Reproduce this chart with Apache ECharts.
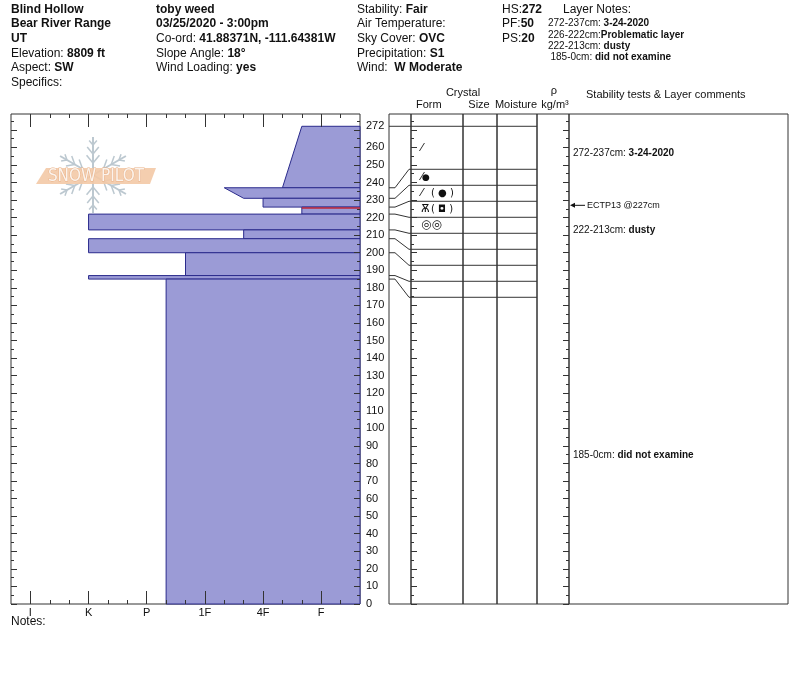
<!DOCTYPE html>
<html>
<head>
<meta charset="utf-8">
<script src="https://cdn.jsdelivr.net/npm/echarts@6/dist/echarts.min.js"></script>
<style>html,body{margin:0;padding:0;background:#fff}#c{width:800px;height:676px}</style>
</head>
<body>
<div id="c"></div>
<script>
// ---------------- data ----------------
const layerTop       = [272, 237, 231, 226, 222, 213, 208, 200, 187, 185];
const layerBottom    = [237, 231, 226, 222, 213, 208, 200, 187, 185, 0];
const hardnessTop    = ['F+', '1F-', '4F', 'F+', 'K', '4F+', 'K', '1F+', 'K', 'P-'];
const hardnessBottom = ['4F-', '4F+', '4F', 'F+', 'K', '4F+', 'K', '1F+', 'K', 'P-'];
const problematic    = [false, false, false, true, false, false, false, false, false, false];
const formPrimary    = ['⁄', '●+⁄', '⁄', 'Ѫ', '◎◎', '', '', '', '', ''];
const formSecondary  = ['', '', '●', '◘', '', '', '', '', '', ''];
const layerComments  = ['3-24-2020', '', '', '', 'dusty', '', '', '', '', 'did not examine'];
const testDepth      = [227];
const testLabel      = ['ECTP13 @227cm'];
const hardnessLabels = ['I', 'K', 'P', '1F', '4F', 'F'];
const depthLabels    = [0,10,20,30,40,50,60,70,80,90,100,110,120,130,140,150,160,170,180,190,200,210,220,230,240,250,260,272];

const siteLines  = [[['Blind Hollow',1]], [['Bear River Range',1]], [['UT',1]], [['Elevation: ',0],['8809 ft',1]], [['Aspect: ',0],['SW',1]], [['Specifics:',0]]];
const obsLines   = [[['toby weed',1]], [['03/25/2020 - 3:00pm',1]], [['Co-ord: ',0],['41.88371N, -111.64381W',1]], [['Slope Angle: ',0],['18°',1]], [['Wind Loading: ',0],['yes',1]]];
const wxLines    = [[['Stability: ',0],['Fair',1]], [['Air Temperature:',0]], [['Sky Cover: ',0],['OVC',1]], [['Precipitation: ',0],['S1',1]], [['Wind:  ',0],['W Moderate',1]]];
const snowLines  = [[['HS:',0],['272',1]], [['PF:',0],['50',1]], [['PS:',0],['20',1]]];
const noteRanges = ['272-237cm: ', '226-222cm:', '222-213cm: ', '185-0cm: '];
const noteTexts  = ['3-24-2020', 'Problematic layer', 'dusty', 'did not examine'];

// ---------------- helpers ----------------
const FONT = 'Arial, "Liberation Sans", Helvetica, sans-serif';
const INK = '#111';
const LINE = '#333';
const HBASE = {I:1, K:4, P:7, '1F':10, '4F':13, F:16};
function hard(code) {
  const m = code.match(/^(1F|4F|I|K|P|F)([+-]?)$/);
  let v = HBASE[m[1]];
  if (m[2] === '+') v -= 1;
  if (m[2] === '-') v += 1;
  return v;
}
const CM_MAX = 279;
const majorDepth = [], minorDepth = [];
for (let v = 0; v <= 275; v += 5) (v % 10 === 0 ? majorDepth : minorDepth).push(v);
const majorHard = hardnessLabels.map(h => HBASE[h]);
const minorHard = [];
for (let v = 1; v < 18; v++) if (majorHard.indexOf(v) < 0) minorHard.push(v);

function richText(parts) {
  return parts.map(p => '{' + (p[1] ? 'b' : 'n') + '|' + p[0] + '}').join('');
}
function richStyle(size) {
  return {
    n: {fontSize: size, fontFamily: FONT, fill: INK},
    b: {fontSize: size, fontFamily: FONT, fontWeight: 'bold', fill: INK}
  };
}
function gtext(x, y, parts, size, align) {
  return {type: 'text', x: x, y: y, silent: true, style: {
    text: richText(parts), rich: richStyle(size || 12), fontSize: size || 12, fontFamily: FONT, fill: INK,
    textAlign: align || 'left', textVerticalAlign: 'middle', align: align || 'left', verticalAlign: 'middle'}};
}

// ---------------- grids & axes ----------------
const GT = 114, GH = 490;
const grids = [
  {left: 11,  top: GT, width: 349, height: GH},   // 0 hardness profile
  {left: 389, top: GT, width: 22,  height: GH},   // 1 connectors
  {left: 411, top: GT, width: 52,  height: GH},   // 2 form
  {left: 463, top: GT, width: 34,  height: GH},   // 3 size
  {left: 497, top: GT, width: 40,  height: GH},   // 4 moisture
  {left: 537, top: GT, width: 32,  height: GH},   // 5 density
  {left: 569, top: GT, width: 219, height: GH},   // 6 comments
  {left: 389, top: GT, width: 399, height: GH}    // 7 overlay for table drawing
].map((g, i) => Object.assign(g, {show: i < 7, borderColor: LINE, borderWidth: 1, backgroundColor: 'transparent', containLabel: false}));

function tickAxis(gi, pos, vals, len, min, max, label) {
  return {
    type: 'value', gridIndex: gi, position: pos, min: min, max: max, z: 10,
    axisLine: {show: false, onZero: false},
    splitLine: {show: false},
    axisTick: {show: true, inside: true, length: len, customValues: vals, lineStyle: {color: LINE, width: 1}},
    axisLabel: label || {show: false}
  };
}
function hiddenAxis(gi, max) {
  return {type: 'value', gridIndex: gi, min: 0, max: max, show: false, axisLine: {onZero: false}};
}

const xAxes = [
  tickAxis(0, 'bottom', majorHard, 13, 0, 18, {
    show: true, customValues: majorHard, margin: 3, color: INK, fontSize: 11, fontFamily: FONT,
    formatter: v => hardnessLabels[majorHard.indexOf(v)] || ''
  }),
  tickAxis(0, 'bottom', minorHard, 4, 0, 18),
  tickAxis(0, 'top', majorHard, 13, 0, 18),
  tickAxis(0, 'top', minorHard, 4, 0, 18),
  hiddenAxis(1, 1), hiddenAxis(2, 1), hiddenAxis(3, 1), hiddenAxis(4, 1), hiddenAxis(5, 1), hiddenAxis(6, 1),
  hiddenAxis(7, 399)
];
const yAxes = [
  tickAxis(0, 'right', majorDepth, 6, 0, CM_MAX, {
    show: true, customValues: depthLabels, margin: 6, color: INK, fontSize: 11, fontFamily: FONT, align: 'left'
  }),
  tickAxis(0, 'right', minorDepth, 3, 0, CM_MAX),
  tickAxis(0, 'left', majorDepth, 6, 0, CM_MAX),
  tickAxis(0, 'left', minorDepth, 3, 0, CM_MAX),
  hiddenAxis(1, CM_MAX),
  tickAxis(2, 'left', majorDepth, 6, 0, CM_MAX),
  tickAxis(2, 'left', minorDepth, 3, 0, CM_MAX),
  hiddenAxis(3, CM_MAX),
  hiddenAxis(4, CM_MAX),
  tickAxis(5, 'right', majorDepth, 6, 0, CM_MAX),
  tickAxis(5, 'right', minorDepth, 3, 0, CM_MAX),
  hiddenAxis(6, CM_MAX),
  hiddenAxis(7, CM_MAX)
];

// ---------------- series ----------------
const layerData = layerTop.map((t, i) => [t, layerBottom[i], hard(hardnessTop[i]), hard(hardnessBottom[i]), problematic[i] ? 1 : 0]);

function renderLayer(params, api) {
  const top = api.value(0), bot = api.value(1), ht = api.value(2), hb = api.value(3), prob = api.value(4);
  const a = api.coord([ht, top]);
  const b = api.coord([18, top]);
  const c = api.coord([18, bot]);
  const d = api.coord([hb, bot]);
  const children = [{type: 'polygon', shape: {points: [a, b, c, d]},
    style: {fill: '#9b9bd6', stroke: '#2b2b8c', lineWidth: 1}}];
  if (prob) children.push({type: 'line', shape: {x1: a[0], y1: a[1] + 1, x2: b[0], y2: b[1] + 1},
    style: {stroke: '#c0283a', lineWidth: 1.5}});
  return {type: 'group', children: children};
}

function textEl(x, y, text, font, extra) {
  return {type: 'text', x: x, y: y, style: Object.assign({
    text: text, font: font, fill: INK, textAlign: 'left', textVerticalAlign: 'middle', align: 'left', verticalAlign: 'middle'}, extra || {})};
}

function renderRow(params, api) {
  const i = params.dataIndex, n = layerTop.length;
  const origin = api.coord([0, 0]);
  const x0 = origin[0], yBottom = origin[1];
  const yTop = api.coord([0, layerTop[0]])[1];
  const FIRST = 43, ROW = 16;
  const rowTop = i === 0 ? yTop : yTop + FIRST + (i - 1) * ROW;
  const rowBot = i < n - 1 ? yTop + FIRST + i * ROW : yBottom;
  const ls = {stroke: LINE, lineWidth: 1};
  const ch = [];
  if (i === 0) ch.push({type: 'line', shape: {x1: x0, y1: yTop, x2: x0 + 148, y2: yTop}, style: ls});
  if (i < n - 1) {
    const yAct = api.coord([0, layerBottom[i]])[1];
    ch.push({type: 'line', shape: {x1: x0 + 22, y1: rowBot, x2: x0 + 148, y2: rowBot}, style: ls});
    ch.push({type: 'polyline', shape: {points: [[x0, yAct], [x0 + 6, yAct], [x0 + 20, rowBot], [x0 + 22, rowBot]]},
      style: {stroke: LINE, lineWidth: 1, fill: null}});
  }
  const yc = (rowTop + rowBot) / 2;
  const prim = formPrimary[i];
  if (prim) {
    prim.split('+').forEach((g, k) => {
      const small = g === '●';
      ch.push(textEl(x0 + 32 + (small && k === 0 ? 1 : 0), yc, g,
        (small ? '9px' : (g === '◎◎' ? '12px' : '11px')) + ' "DejaVu Sans", sans-serif'));
    });
  }
  const sec = formSecondary[i];
  if (sec) ch.push(textEl(x0 + 42, yc, '( ' + sec + ' )', '10px "DejaVu Sans", sans-serif'));
  const com = layerComments[i];
  if (com) {
    ch.push({type: 'text', x: x0 + 184, y: yc + 5, style: {
      text: '{n|' + layerTop[i] + '-' + layerBottom[i] + 'cm: }{b|' + com + '}',
      rich: richStyle(10), fontSize: 10, fontFamily: FONT, fill: INK,
      textAlign: 'left', textVerticalAlign: 'middle', align: 'left', verticalAlign: 'middle'}});
  }
  return {type: 'group', children: ch};
}

function renderTest(params, api) {
  const x0 = api.coord([0, 0])[0];
  const y = api.coord([0, api.value(1)])[1];
  const tip = x0 + 181;
  return {type: 'group', children: [
    {type: 'line', shape: {x1: tip + 2, y1: y, x2: tip + 15, y2: y}, style: {stroke: INK, lineWidth: 1}},
    {type: 'polygon', shape: {points: [[tip, y], [tip + 5, y - 2.5], [tip + 5, y + 2.5]]}, style: {fill: INK}},
    textEl(tip + 17, y, testLabel[params.dataIndex], '9px ' + FONT)
  ]};
}

// ---------------- decoration (logo) ----------------
const flake = [];
const FC = [93, 175], FL = 38, FCOL = '#bcc8d0';
[90, 150, 210, 270, 330, 30].forEach(deg => {
  const r = deg * Math.PI / 180, ux = Math.cos(r), uy = -Math.sin(r);
  flake.push({type: 'line', shape: {x1: FC[0], y1: FC[1], x2: FC[0] + ux * FL, y2: FC[1] + uy * FL}, style: {stroke: FCOL, lineWidth: 2}});
  [12, 21, 30].forEach((dist, k) => {
    const bl = [10, 9, 6][k];
    [-40, 40].forEach(off => {
      const r2 = (deg + off) * Math.PI / 180;
      const sx = FC[0] + ux * dist, sy = FC[1] + uy * dist;
      flake.push({type: 'line', shape: {x1: sx, y1: sy, x2: sx + Math.cos(r2) * bl, y2: sy - Math.sin(r2) * bl}, style: {stroke: FCOL, lineWidth: 1.5}});
    });
  });
});

const graphics = [
  {type: 'group', silent: true, children: flake.concat([
    {type: 'polygon', shape: {points: [[46, 168], [156, 168], [150, 184], [36, 184]]}, style: {fill: '#f3c9a6', opacity: 0.9}},
    {type: 'text', x: 96, y: 176.5, style: {text: 'SNOW PILOT', font: '17px "Liberation Sans Narrow", "DejaVu Sans Condensed", sans-serif',
      fill: '#fbf3ec', stroke: '#e9b189', lineWidth: 0.8, textAlign: 'center', textVerticalAlign: 'middle', align: 'center', verticalAlign: 'middle'}}
  ])}
];
const LY0 = 9.5, LDY = 14.6;
siteLines.forEach((p, i) => graphics.push(gtext(11, LY0 + i * LDY, p, 12)));
obsLines.forEach((p, i) => graphics.push(gtext(156, LY0 + i * LDY, p, 12)));
wxLines.forEach((p, i) => graphics.push(gtext(357, LY0 + i * LDY, p, 12)));
snowLines.forEach((p, i) => graphics.push(gtext(502, LY0 + i * LDY, p, 12)));
graphics.push(gtext(563, LY0, [['Layer Notes:', 0]], 12));
const noteY = [23, 35, 46, 57];
noteRanges.forEach((r, i) => graphics.push(gtext(i === 3 ? 550.5 : 548, noteY[i], [[r, 0], [noteTexts[i], 1]], 10)));
// table header
graphics.push(gtext(463, 93, [['Crystal', 0]], 11, 'center'));
graphics.push(gtext(416, 105, [['Form', 0]], 11));
graphics.push(gtext(479, 105, [['Size', 0]], 11, 'center'));
graphics.push(gtext(516, 105, [['Moisture', 0]], 11, 'center'));
graphics.push(gtext(554, 91, [['ρ', 0]], 11, 'center'));
graphics.push(gtext(555, 105, [['kg/m³', 0]], 11, 'center'));
graphics.push(gtext(586, 95, [['Stability tests & Layer comments', 0]], 11));
graphics.push(gtext(11, 622, [['Notes:', 0]], 12));

const option = {
  animation: false,
  backgroundColor: '#fff',
  grid: grids,
  xAxis: xAxes,
  yAxis: yAxes,
  graphic: graphics,
  series: [
    {type: 'custom', xAxisIndex: 0, yAxisIndex: 0, data: layerData, encode: {x: [2, 3], y: [0, 1]},
      renderItem: renderLayer, clip: false, silent: true, z: 1},
    {type: 'custom', xAxisIndex: 10, yAxisIndex: 12, data: layerTop.map((t, i) => [0, t, layerBottom[i]]),
      encode: {x: 0, y: [1, 2]}, renderItem: renderRow, clip: false, silent: true, z: 3},
    {type: 'custom', xAxisIndex: 10, yAxisIndex: 12, data: testDepth.map(d => [0, d]),
      encode: {x: 0, y: 1}, renderItem: renderTest, clip: false, silent: true, z: 3}
  ]
};
const chart = echarts.init(document.getElementById('c'));
chart.setOption(option);
</script>
</body>
</html>
